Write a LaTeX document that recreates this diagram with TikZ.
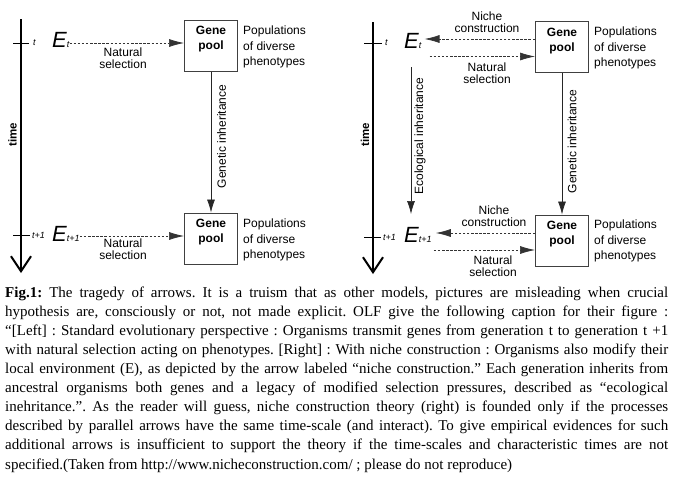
\documentclass[tikz,border=0pt]{standalone}
\usepackage{fontspec}
\setmainfont{Liberation Serif}
\setsansfont{Liberation Sans}
\usetikzlibrary{arrows.meta}
\newcommand\EnvSym[1]{{\fontsize{22}{22}\selectfont E}{\fontsize{9}{9}\selectfont #1}}
\tikzset{
 lbl/.style={font=\sffamily\fontsize{12}{12}\selectfont, align=center, inner sep=0pt, anchor=north},
 pop/.style={font=\sffamily\fontsize{12}{15.5}\selectfont, align=left, inner sep=0pt, anchor=north west},
 gpbox/.style={draw=black!75, line width=1pt, minimum width=53pt, minimum height=51pt, inner sep=0pt},
 gptext/.style={font=\sffamily\bfseries\fontsize{12}{15}\selectfont, align=center, inner sep=0pt, anchor=north},
 envE/.style={font=\sffamily\itshape, inner sep=0pt, anchor=base west},
 ticklbl/.style={font=\sffamily\itshape\fontsize{9}{9}\selectfont, inner sep=0pt, anchor=west},
 rotlbl/.style={font=\sffamily\fontsize{12}{12}\selectfont, rotate=90, inner sep=0pt},
 timelbl/.style={font=\sffamily\bfseries\fontsize{11.5}{12}\selectfont, rotate=90, inner sep=0pt},
 dsh/.style={draw=black!80, line width=0.7pt, dash pattern=on 2.5pt off 1.6pt, -{Latex[length=15pt,width=8pt]}},
 sol/.style={draw=black!85, line width=0.7pt, -{Latex[length=13pt,width=8pt]}},
 taxis/.style={line width=2pt, -{Straight Barb[length=15pt,width=20pt]}},
 tickln/.style={line width=1pt},
}
\begin{document}
\begin{tikzpicture}[x=1pt,y=-1pt]
\useasboundingbox (0,0) rectangle (673,501);
\fill[white] (0,0) rectangle (673,501);

% ---------------- LEFT ----------------
\coordinate (LAtop) at (21,19);
\coordinate (LAbot) at (21,273);
\draw[taxis] (LAtop) -- (LAbot);
\coordinate (LT1a) at (13,43); \coordinate (LT1b) at (29,43);
\coordinate (LT2a) at (13,235); \coordinate (LT2b) at (30,235);
\draw[tickln] (LT1a) -- (LT1b);
\draw[tickln] (LT2a) -- (LT2b);
\node[ticklbl] (Lt1) at (33,43) {t};
\node[ticklbl] (Lt2) at (32,235) {t+1};
\node[timelbl] (Ltime) at (12.5,135) {time};

\node[envE] (E1) at (52,47) {\EnvSym{t}};
\node[envE] (E2) at (52,241) {\EnvSym{t+1}};

\node[gpbox] (B1) at (211,45.5) {};
\node[gptext] (B1t) at ([yshift=-6.5pt]B1.north) {Gene\\pool};
\node[gpbox] (B2) at (211,238.5) {};
\node[gptext] (B2t) at ([yshift=-6.5pt]B2.north) {Gene\\pool};

\node[pop] (P1) at (243,26) {Populations\\of diverse\\phenotypes};
\node[pop] (P2) at (243,219) {Populations\\of diverse\\phenotypes};

\draw[dsh] ([yshift=4pt]E1.base east) -- ([yshift=4pt]E1.base east -| B1.west);
\node[lbl] (NS1) at (123,48) {Natural\\selection};
\draw[dsh] ([yshift=5pt]E2.base east) -- ([yshift=5pt]E2.base east -| B2.west);
\node[lbl] (NS2) at (123,239) {Natural\\selection};

\draw[sol] (B1.south) -- (B2.north);
\node[rotlbl] (GI1) at (221.5,136.5) {Genetic inheritance};

% ---------------- RIGHT ----------------
\coordinate (RAtop) at (373,22);
\coordinate (RAbot) at (373,274);
\draw[taxis] (RAtop) -- (RAbot);
\coordinate (RT1a) at (364,43); \coordinate (RT1b) at (382,43);
\coordinate (RT2a) at (364,237); \coordinate (RT2b) at (381,237);
\draw[tickln] (RT1a) -- (RT1b);
\draw[tickln] (RT2a) -- (RT2b);
\node[ticklbl] (Rt1) at (385,43) {t};
\node[ticklbl] (Rt2) at (383,237) {t+1};
\node[timelbl] (Rtime) at (365,135) {time};

\node[envE] (E3) at (404,48) {\EnvSym{t}};
\node[envE] (E4) at (404,242) {\EnvSym{t+1}};

\node[gpbox] (B3) at (562,47) {};
\node[gptext] (B3t) at ([yshift=-6.5pt]B3.north) {Gene\\pool};
\node[gpbox] (B4) at (562,240.5) {};
\node[gptext] (B4t) at ([yshift=-6.5pt]B4.north) {Gene\\pool};

\node[pop] (P3) at (594,27) {Populations\\of diverse\\phenotypes};
\node[pop] (P4) at (594,220) {Populations\\of diverse\\phenotypes};

% top arrows
\coordinate (NC1tip) at ([xshift=3pt,yshift=9pt]E3.base east);
\draw[dsh] (NC1tip -| B3.west) -- (NC1tip);
\node[lbl] (NCL1) at (487,12) {Niche\\construction};
\coordinate (NS3s) at ([xshift=8pt,yshift=-8.5pt]E3.base east);
\draw[dsh] (NS3s) -- (NS3s -| B3.west);
\node[lbl] (NS3) at (487,62.5) {Natural\\selection};

% bottom arrows
\coordinate (NC2tip) at ([xshift=4pt,yshift=9pt]E4.base east);
\draw[dsh] (NC2tip -| B4.west) -- (NC2tip);
\node[lbl] (NCL2) at (494,205.5) {Niche\\construction};
\coordinate (NS4s) at ([xshift=2pt,yshift=-8pt]E4.base east);
\draw[dsh] (NS4s) -- (NS4s -| B4.west);
\node[lbl] (NS4) at (493,255.5) {Natural\\selection};

\draw[sol] (B3.south) -- (B4.north);
\node[rotlbl] (GI2) at (572,141.5) {Genetic inheritance};

\coordinate (EIa) at (411,67);
\coordinate (EIb) at (411,214);
\draw[sol] (EIa) -- (EIb);
\node[rotlbl] (EIl) at (420,136) {Ecological inheritance};

% ---------------- CAPTION ----------------
\node[anchor=north west, text width=663pt, align=justify, inner sep=0pt,
      font=\fontsize{15}{19.1}\selectfont\frenchspacing] (cap) at (5,283.6)
{\strut\textbf{Fig.1:} The tragedy of arrows. It is a truism that as other models, pictures are misleading when crucial\linebreak
hypothesis are, consciously or not, not made explicit. OLF give the following caption for their figure :\linebreak
“[Left] : Standard evolutionary perspective : Organisms transmit genes from generation t to generation t +1\linebreak
with natural selection acting on phenotypes. [Right] : With niche construction : Organisms also modify their\linebreak
local environment (E), as depicted by the arrow labeled “niche construction.” Each generation inherits from\linebreak
ancestral organisms both genes and a legacy of modified selection pressures, described as “ecological\linebreak
inehritance.”. As the reader will guess, niche construction theory (right) is founded only if the processes\linebreak
described by parallel arrows have the same time-scale (and interact). To give empirical evidences for such\linebreak
additional arrows is insufficient to support the theory if the time-scales and characteristic times are not\linebreak
specified.(Taken from http://www.nicheconstruction.com/ ; please do not reproduce)};
\end{tikzpicture}
\end{document}
